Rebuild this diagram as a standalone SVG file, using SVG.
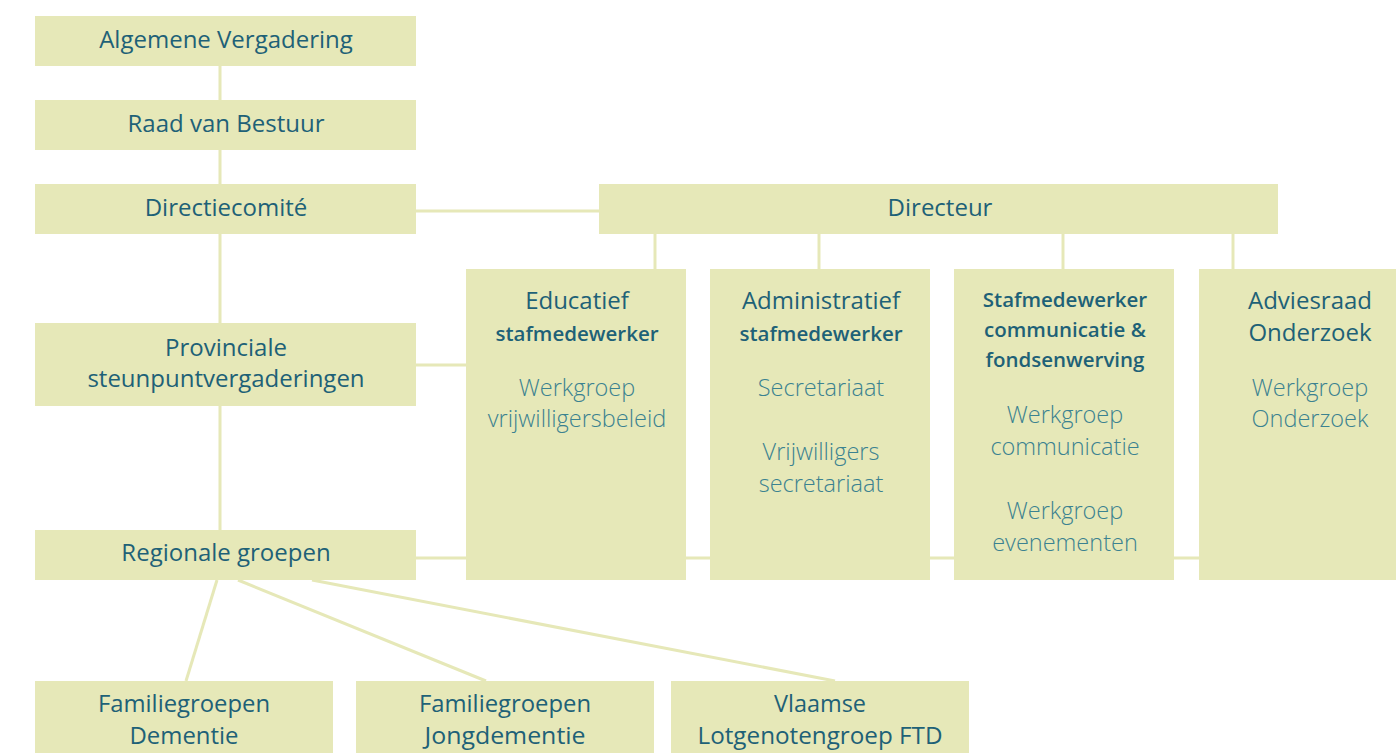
<svg xmlns="http://www.w3.org/2000/svg" width="1396" height="753" viewBox="0 0 1396 753">
<style>
.box{fill:#e6e8b8}
.ln{stroke:#e6e8b8;stroke-width:3;fill:none}
text{font-family:"Open Sans","Noto Sans",sans-serif;text-anchor:middle}
.t{fill:#1e6177;font-size:24px;font-weight:500}
.s{fill:#1e6177;font-size:20.5px;font-weight:600}
.l{fill:#3b8290;font-size:23.5px;font-weight:300}
.c{fill:#1e6177;font-size:24px;font-weight:500}
</style>
<rect width="1396" height="753" fill="#ffffff"/>
<g id="connectors">
<line class="ln" x1="220" y1="66" x2="220" y2="530"/>
<line class="ln" x1="416" y1="211" x2="599" y2="211"/>
<line class="ln" x1="416" y1="365" x2="466" y2="365"/>
<line class="ln" x1="416" y1="558" x2="1199" y2="558"/>
<line class="ln" x1="655" y1="234" x2="655" y2="269"/>
<line class="ln" x1="819" y1="234" x2="819" y2="269"/>
<line class="ln" x1="1063" y1="234" x2="1063" y2="269"/>
<line class="ln" x1="1233" y1="234" x2="1233" y2="269"/>
<line class="ln" x1="217" y1="580" x2="186" y2="681"/>
<line class="ln" x1="238" y1="580" x2="486" y2="681"/>
<line class="ln" x1="312" y1="580" x2="835" y2="681"/>
</g>
<g id="algemene"><rect class="box" x="35" y="16" width="381" height="50"/><text class="t" x="226" y="48">Algemene Vergadering</text></g>
<g id="raad"><rect class="box" x="35" y="100" width="381" height="50"/><text class="t" x="226" y="132">Raad van Bestuur</text></g>
<g id="directiecomite"><rect class="box" x="35" y="184" width="381" height="50"/><text class="t" x="226" y="216">Directiecomité</text></g>
<g id="provinciale"><rect class="box" x="35" y="323" width="381" height="83"/><text class="t" x="226" y="356">Provinciale</text><text class="t" x="226" y="387">steunpuntvergaderingen</text></g>
<g id="regionale"><rect class="box" x="35" y="530" width="381" height="50"/><text class="t" x="226" y="561">Regionale groepen</text></g>
<g id="directeur"><rect class="box" x="599" y="184" width="679" height="50"/><text class="t" x="940" y="216">Directeur</text></g>
<g id="educatief"><rect class="box" x="466" y="269" width="220" height="311"/><text class="t" x="577" y="309">Educatief</text><text class="s" x="577" y="341">stafmedewerker</text><text class="l" x="577" y="396">Werkgroep</text><text class="l" x="577" y="427">vrijwilligersbeleid</text></g>
<g id="administratief"><rect class="box" x="710" y="269" width="220" height="311"/><text class="t" x="821" y="309">Administratief</text><text class="s" x="821" y="341">stafmedewerker</text><text class="l" x="821" y="396">Secretariaat</text><text class="l" x="821" y="460">Vrijwilligers</text><text class="l" x="821" y="492">secretariaat</text></g>
<g id="stafmedewerker"><rect class="box" x="954" y="269" width="220" height="311"/><text class="s" x="1065" y="307">Stafmedewerker</text><text class="s" x="1065" y="337">communicatie &amp;</text><text class="s" x="1065" y="367">fondsenwerving</text><text class="l" x="1065" y="423">Werkgroep</text><text class="l" x="1065" y="455">communicatie</text><text class="l" x="1065" y="519">Werkgroep</text><text class="l" x="1065" y="551">evenementen</text></g>
<g id="adviesraad"><rect class="box" x="1199" y="269" width="197" height="311"/><text class="t" x="1310" y="309" font-weight="600">Adviesraad</text><text class="t" x="1310" y="341" font-weight="600">Onderzoek</text><text class="l" x="1310" y="396">Werkgroep</text><text class="l" x="1310" y="427">Onderzoek</text></g>
<g id="familie-dementie"><rect class="box" x="35" y="681" width="298" height="72"/><text class="c" x="184" y="712" textLength="172" lengthAdjust="spacingAndGlyphs">Familiegroepen</text><text class="c" x="184" y="744" textLength="109" lengthAdjust="spacingAndGlyphs">Dementie</text></g>
<g id="familie-jong"><rect class="box" x="356" y="681" width="298" height="72"/><text class="c" x="505" y="712" textLength="172" lengthAdjust="spacingAndGlyphs">Familiegroepen</text><text class="c" x="505" y="744" textLength="161" lengthAdjust="spacingAndGlyphs">Jongdementie</text></g>
<g id="vlaamse"><rect class="box" x="671" y="681" width="298" height="72"/><text class="c" x="820" y="712" textLength="92" lengthAdjust="spacingAndGlyphs">Vlaamse</text><text class="c" x="820" y="744" textLength="245" lengthAdjust="spacingAndGlyphs">Lotgenotengroep FTD</text></g>
</svg>
